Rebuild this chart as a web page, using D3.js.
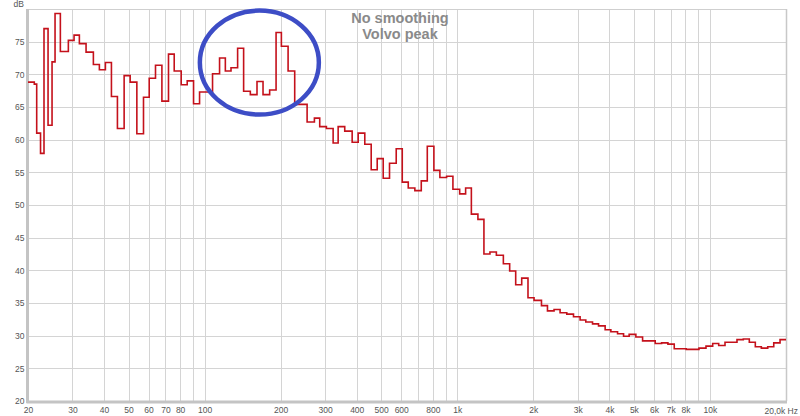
<!DOCTYPE html>
<html>
<head>
<meta charset="utf-8">
<script src="https://cdn.jsdelivr.net/npm/d3@7/dist/d3.min.js"></script>
<style>
  html, body { margin: 0; padding: 0; background: #ffffff; }
  svg { display: block; }
</style>
</head>
<body>
<svg id="chart" width="800" height="416"></svg>
<script>
// ---- data ----
const freqEdges = [20,21.18,21.65,22.42,23.14,24.01,24.9,25.59,26.86,28.89,
  30.43,31.94,33.95,36.29,38.33,40.49,42.78,45.18,48.03,50.74,
  53.93,57.3,60.36,63.92,67.76,71.96,75.81,80.81,85.35,90.41,
  95.5,107.5,114.6,120.8,127.2,135.1,142.7,151.7,161.2,170.3,
  180.9,191.8,201.3,214,227.3,254.5,272,285.5,303.4,322.6,
  337.7,358.6,383.7,405.3,430.5,456.4,482.1,509.2,539.3,573.3,
  605.7,639.7,679.4,720.3,760.9,808.1,853.4,907.3,961.1,1022,
  1079,1137,1207,1275,1347,1428,1522,1612,1703,1799,
  1905,2013,2154,2275,2416,2552,2713,2884,3063,3226,
  3430,3623,3848,4054,4309,4551,4789,5091,5413,6073,
  6437,6819,7223,8057,9048,9647,10254,10831,11472,12796,
  13553,14316,15121,15973,16933,17887,18945];
const levels = [68.8,68.5,61.0,57.9,77.0,62.2,71.9,79.3,73.5,75.2,
  76.0,74.7,73.4,71.5,70.7,71.8,66.6,61.7,69.8,68.8,
  60.9,66.5,69.4,71.4,65.9,73.1,70.5,68.4,69.0,65.5,
  67.3,70.1,72.5,70.5,71.0,74.0,67.4,66.9,68.9,66.9,
  67.6,76.4,74.3,70.5,65.4,62.7,63.3,62.0,61.7,59.5,
  62.0,61.3,59.6,61.0,59.3,55.4,57.1,54.1,56.4,58.6,
  53.5,52.6,52.2,53.7,59.0,55.3,54.2,54.4,52.4,51.7,
  52.6,48.6,47.8,42.5,42.8,42.3,41.0,39.9,37.8,38.8,
  35.8,35.4,34.6,33.8,34.0,33.5,33.3,32.9,32.4,32.1,
  31.8,31.5,30.9,30.6,30.3,29.9,30.2,29.8,29.2,28.8,
  28.9,28.7,28.0,27.9,28.1,28.4,28.8,28.5,29.0,29.4,
  29.5,29.0,28.3,28.1,28.3,28.9,29.4];
const freqEnd = 20000;

const xGridValues = [20,30,40,50,60,70,80,90,100,200,300,400,500,600,700,800,900,
  1000,2000,3000,4000,5000,6000,7000,8000,9000,10000,20000];
const xTickValues = [20,30,40,50,60,70,80,100,200,300,400,500,600,800,
  1000,2000,3000,4000,5000,6000,7000,8000,10000];
const xTickLabels = ["20","30","40","50","60","70","80","100","200","300","400","500","600","800",
  "1k","2k","3k","4k","5k","6k","7k","8k","10k"];
const xEndLabel = "20,0k Hz";
const yTickValues = [20,25,30,35,40,45,50,55,60,65,70,75];
const yGridValues = [25,30,35,40,45,50,55,60,65,70,75];
const yUnit = "dB";
const titleLines = ["No smoothing", "Volvo peak"];
const highlight = { freq: 164.7, db: 71.8 };

// ---- layout ----
const svg = d3.select("#chart");
const L = 28, R = 786, T = 9, B = 401;
const x = d3.scaleLog().domain([20, 20000]).range([L, R]);
const y = d3.scaleLinear().domain([20, 80]).range([B, T]);

const font = "'Liberation Sans', Arial, sans-serif";

// plot background
svg.append("rect").attr("x", L).attr("y", T).attr("width", R - L).attr("height", B - T).attr("fill", "#ffffff");

// grid
const g = svg.append("g");
g.selectAll("line.vg").data(xGridValues).enter().append("line")
  .attr("x1", d => Math.round(x(d)) + 0.5).attr("x2", d => Math.round(x(d)) + 0.5)
  .attr("y1", T).attr("y2", B)
  .attr("stroke", "#d4d4d4").attr("stroke-width", 1);
g.selectAll("line.hg").data(yGridValues).enter().append("line")
  .attr("y1", d => Math.round(y(d)) + 0.5).attr("y2", d => Math.round(y(d)) + 0.5)
  .attr("x1", L).attr("x2", R)
  .attr("stroke", "#d4d4d4").attr("stroke-width", 1);

// frame
svg.append("line").attr("x1", L).attr("x2", R).attr("y1", T + 0.5).attr("y2", T + 0.5).attr("stroke", "#cfcfcf").attr("stroke-width", 1);
svg.append("line").attr("x1", R + 0.5).attr("x2", R + 0.5).attr("y1", T).attr("y2", B).attr("stroke", "#c8c8c8").attr("stroke-width", 1.5);
svg.append("line").attr("x1", L - 1.5).attr("x2", R + 1).attr("y1", B + 1).attr("y2", B + 1).attr("stroke", "#c4c4c4").attr("stroke-width", 3);
svg.append("line").attr("x1", L - 0.5).attr("x2", L - 0.5).attr("y1", T).attr("y2", B + 2).attr("stroke", "#c4c4c4").attr("stroke-width", 3);

// axes labels
const xAxis = d3.axisBottom(x).tickValues(xTickValues).tickSize(0)
  .tickFormat((d, i) => xTickLabels[i]);
const xa = svg.append("g").attr("transform", `translate(0,${B + 3})`).call(xAxis);
xa.select(".domain").remove();
xa.selectAll("text").attr("font-family", font).attr("font-size", 8.5).attr("fill", "#555").attr("dy", "0.75em");

svg.append("text").attr("x", 798).attr("y", B + 13)
  .attr("text-anchor", "end").attr("font-family", font).attr("font-size", 8.5).attr("fill", "#555")
  .text(xEndLabel);

const yAxis = d3.axisLeft(y).tickValues(yTickValues).tickSize(0).tickPadding(0).tickFormat(d => d);
const ya = svg.append("g").attr("transform", `translate(24.5,0)`).call(yAxis);
ya.select(".domain").remove();
ya.selectAll("text").attr("font-family", font).attr("font-size", 8.5).attr("fill", "#555");

svg.append("text").attr("x", 24).attr("y", 7).attr("text-anchor", "end")
  .attr("font-family", font).attr("font-size", 8.5).attr("fill", "#555").text(yUnit);

// title
svg.selectAll("text.title").data(titleLines).enter().append("text")
  .attr("x", 400).attr("y", (d, i) => 23 + i * 15.5)
  .attr("text-anchor", "middle").attr("font-family", font).attr("font-weight", "bold")
  .attr("font-size", 14.5).attr("fill", "#8a8a8a").text(d => d);

// step line
const pts = freqEdges.map((f, i) => [f, levels[i]]);
pts.push([freqEnd, levels[levels.length - 1]]);
const line = d3.line().x(d => x(d[0])).y(d => y(d[1])).curve(d3.curveStepAfter);
svg.append("path").datum(pts).attr("d", line)
  .attr("fill", "none").attr("stroke", "#c4111b").attr("stroke-width", 1.6)
  .attr("stroke-linejoin", "miter");

// highlight ellipse
svg.append("ellipse")
  .attr("cx", x(highlight.freq)).attr("cy", y(highlight.db))
  .attr("rx", 59.5).attr("ry", 52)
  .attr("fill", "none").attr("stroke", "#3d4dc6").attr("stroke-width", 4.5);
</script>
</body>
</html>
